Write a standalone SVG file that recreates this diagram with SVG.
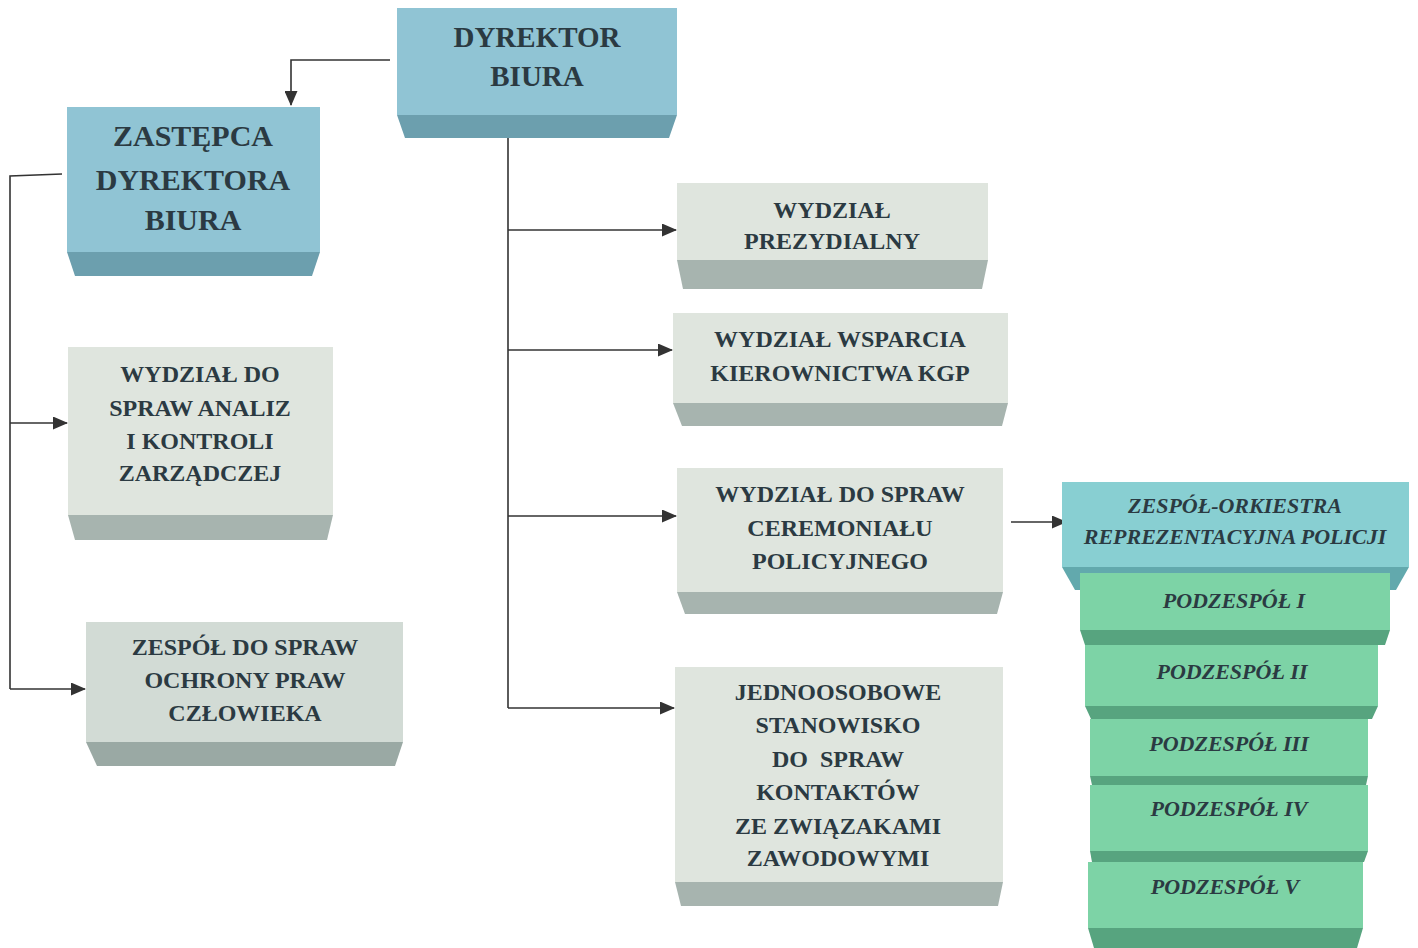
<svg xmlns="http://www.w3.org/2000/svg" width="1418" height="948" viewBox="0 0 1418 948">
<style>
.fb{fill:#90c4d4}.bb{fill:#6c9fae}
.fg{fill:#dfe5de}.bg{fill:#a7b4af}
.fg2{fill:#d2dbd5}.bg2{fill:#9aa9a4}
.ft{fill:#88cfd2}.bt{fill:#62a9ad}
.fgr{fill:#7dd3a6}.bgr{fill:#57a47f}
text{font-family:"Liberation Serif","DejaVu Serif",serif;font-weight:bold;fill:#2b3a42;text-anchor:middle}
.t29{font-size:29px}.t30{font-size:30px}.t24{font-size:24px}
.it{font-style:italic;font-size:22px}
.ln{fill:none;stroke:#333;stroke-width:1.6}
</style>
<defs>
<marker id="ah" markerWidth="15" markerHeight="13" refX="14" refY="6.5" orient="auto" markerUnits="userSpaceOnUse">
<polygon points="0,0 15,6.5 0,13" fill="#333"/>
</marker>
</defs>
<rect width="1418" height="948" fill="#ffffff"/>

<g id="connectors">
<polyline class="ln" points="390,60 291,60 291,105" marker-end="url(#ah)"/>
<line class="ln" x1="508" y1="138" x2="508" y2="708"/>
<line class="ln" x1="508" y1="230" x2="676" y2="230" marker-end="url(#ah)"/>
<line class="ln" x1="508" y1="350" x2="672" y2="350" marker-end="url(#ah)"/>
<line class="ln" x1="508" y1="516" x2="676" y2="516" marker-end="url(#ah)"/>
<line class="ln" x1="508" y1="708" x2="674" y2="708" marker-end="url(#ah)"/>
<polyline class="ln" points="62,174 10,176 10,689"/>
<line class="ln" x1="10" y1="423" x2="67" y2="423" marker-end="url(#ah)"/>
<line class="ln" x1="10" y1="689" x2="85" y2="689" marker-end="url(#ah)"/>
<line class="ln" x1="1011" y1="522" x2="1066" y2="522" marker-end="url(#ah)"/>
</g>

<g id="n-dyrektor">
<rect class="fb" x="397" y="8" width="280" height="107"/>
<polygon class="bb" points="397,115 677,115 669,138 405,138"/>
<text class="t29" x="537" y="47">DYREKTOR</text>
<text class="t29" x="537" y="86">BIURA</text>
</g>

<g id="n-zastepca">
<rect class="fb" x="67" y="107" width="253" height="145"/>
<polygon class="bb" points="67,252 320,252 312,276 75,276"/>
<text class="t30" x="193" y="146">ZASTĘPCA</text>
<text class="t30" x="193" y="190">DYREKTORA</text>
<text class="t30" x="193" y="230">BIURA</text>
</g>

<g id="n-prezydialny">
<rect class="fg" x="677" y="183" width="311" height="77"/>
<polygon class="bg" points="677,260 988,260 982,289 683,289"/>
<text class="t24" x="832" y="218">WYDZIAŁ</text>
<text class="t24" x="832" y="249">PREZYDIALNY</text>
</g>

<g id="n-wsparcia">
<rect class="fg" x="673" y="313" width="335" height="90"/>
<polygon class="bg" points="673,403 1008,403 1002,426 682,426"/>
<text class="t24" x="840" y="347">WYDZIAŁ WSPARCIA</text>
<text class="t24" x="840" y="381">KIEROWNICTWA KGP</text>
</g>

<g id="n-ceremonial">
<rect class="fg" x="677" y="468" width="326" height="124"/>
<polygon class="bg" points="677,592 1003,592 997,614 685,614"/>
<text class="t24" x="840" y="502">WYDZIAŁ DO SPRAW</text>
<text class="t24" x="840" y="536">CEREMONIAŁU</text>
<text class="t24" x="840" y="569">POLICYJNEGO</text>
</g>

<g id="n-jednoosobowe">
<rect class="fg" x="675" y="667" width="328" height="215"/>
<polygon class="bg" points="675,882 1003,882 998,906 681,906"/>
<text class="t24" x="838" y="700">JEDNOOSOBOWE</text>
<text class="t24" x="838" y="733">STANOWISKO</text>
<text class="t24" x="838" y="767" xml:space="preserve">DO  SPRAW</text>
<text class="t24" x="838" y="800">KONTAKTÓW</text>
<text class="t24" x="838" y="834">ZE ZWIĄZAKAMI</text>
<text class="t24" x="838" y="866">ZAWODOWYMI</text>
</g>

<g id="n-analiz">
<rect class="fg" x="68" y="347" width="265" height="168"/>
<polygon class="bg" points="68,515 333,515 327,540 75,540"/>
<text class="t24" x="200" y="382">WYDZIAŁ DO</text>
<text class="t24" x="200" y="416">SPRAW ANALIZ</text>
<text class="t24" x="200" y="449">I KONTROLI</text>
<text class="t24" x="200" y="481">ZARZĄDCZEJ</text>
</g>

<g id="n-ochrona">
<rect class="fg2" x="86" y="622" width="317" height="120"/>
<polygon class="bg2" points="86,742 403,742 395,766 97,766"/>
<text class="t24" x="245" y="655">ZESPÓŁ DO SPRAW</text>
<text class="t24" x="245" y="688">OCHRONY PRAW</text>
<text class="t24" x="245" y="721">CZŁOWIEKA</text>
</g>

<g id="n-orkiestra">
<rect class="ft" x="1062" y="482" width="347" height="85"/>
<polygon class="bt" points="1062,567 1409,567 1396,590 1075,590"/>
<text class="it" x="1235" y="513">ZESPÓŁ-ORKIESTRA</text>
<text class="it" x="1235" y="544">REPREZENTACYJNA POLICJI</text>
</g>

<g id="n-pod1">
<rect class="fgr" x="1080" y="573" width="310" height="57"/>
<polygon class="bgr" points="1080,630 1390,630 1385,645 1085,645"/>
<text class="it" x="1234" y="608">PODZESPÓŁ I</text>
</g>

<g id="n-pod2">
<rect class="fgr" x="1085" y="645" width="293" height="61"/>
<polygon class="bgr" points="1085,706 1378,706 1372,719 1091,719"/>
<text class="it" x="1232" y="679">PODZESPÓŁ II</text>
</g>

<g id="n-pod3">
<rect class="fgr" x="1090" y="719" width="278" height="57"/>
<polygon class="bgr" points="1090,776 1368,776 1366,785 1092,785"/>
<text class="it" x="1229" y="751">PODZESPÓŁ III</text>
</g>

<g id="n-pod4">
<rect class="fgr" x="1090" y="785" width="278" height="66"/>
<polygon class="bgr" points="1090,851 1368,851 1364,862 1092,862"/>
<text class="it" x="1229" y="816">PODZESPÓŁ IV</text>
</g>

<g id="n-pod5">
<rect class="fgr" x="1088" y="862" width="275" height="66"/>
<polygon class="bgr" points="1088,928 1363,928 1357,948 1094,948"/>
<text class="it" x="1225" y="894">PODZESPÓŁ V</text>
</g>
</svg>
